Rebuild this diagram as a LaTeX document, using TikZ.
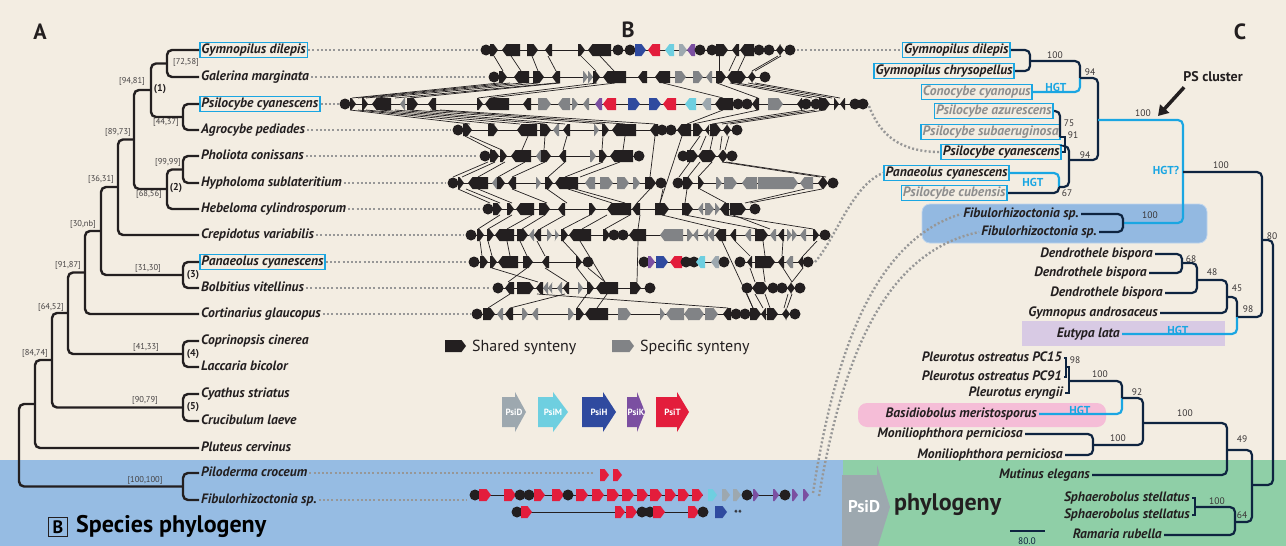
\documentclass[tikz,border=0pt]{standalone}
\usepackage{fontspec}
\setmainfont{PT Sans}
\usetikzlibrary{arrows.meta, positioning}
\definecolor{cream}{HTML}{F3EDE2}
\definecolor{bandblue}{HTML}{96BCE3}
\definecolor{bandgreen}{HTML}{8FCFA7}
\definecolor{gk}{HTML}{231F20}
\definecolor{gs}{HTML}{818386}
\definecolor{gD}{HTML}{9DA8AF}
\definecolor{gM}{HTML}{6ECFE0}
\definecolor{gH}{HTML}{2F4A9F}
\definecolor{gK}{HTML}{7B4FA1}
\definecolor{gT}{HTML}{E31D3C}
\definecolor{hgtblue}{HTML}{1AA6E2}
\definecolor{navy}{HTML}{0E2440}
\definecolor{fibbox}{HTML}{93B9E1}
\definecolor{eutbox}{HTML}{D8CAE4}
\definecolor{basbox}{HTML}{F5BDD7}
\definecolor{dotgray}{HTML}{979797}
\definecolor{graytext}{HTML}{8E8E8E}
% one gene: from, to, kind (o circle, r right, l left), colour, row
\newcommand{\gene}[5]{%
  \if#3o\fill[#4] (#1,#5) circle[radius=5.5pt];\fi
  \if#3r\fill[#4] (#1,#5-6) -- (#2-4.5,#5-6) -- (#2,#5) -- (#2-4.5,#5+6) -- (#1,#5+6) -- cycle;\fi
  \if#3l\fill[#4] (#2,#5-6) -- (#1+4.5,#5-6) -- (#1,#5) -- (#1+4.5,#5+6) -- (#2,#5+6) -- cycle;\fi}
\newcommand{\genes}[2]{\foreach \ga/\gb/\gd/\gc in {#2}{\gene{\ga}{\gb}{\gd}{\gc}{#1}}}
\newcommand{\links}[3]{\foreach \ga/\gb in {#3}{\draw[synt] (\ga,#1+6) -- (\gb,#2-6);}}
\newcommand{\psiarrow}[6]{% node name, label, body start, body end, tip, colour
  \fill[#6] (#3,397) -- (#4,397) -- (#4,392) -- (#5,412) -- (#4,432) -- (#4,427) -- (#3,427) -- cycle;
  \node[psibig] (#1) at ({(#3+#5)/2},412) {#2};}
\tikzset{
  sp/.style={font=\fontsize{13.6}{15}\selectfont\bfseries\itshape, text=gk, inner sep=2pt, text height=9.5pt, text depth=2.5pt},
  spbox/.style={sp, draw=hgtblue, line width=1.6pt, inner sep=1.6pt},
  spgray/.style={spbox, text=graytext},
  boot/.style={font=\fontsize{8.5}{9}\selectfont, text=gk!85, inner sep=1pt},
  cboot/.style={font=\fontsize{9.5}{10}\selectfont, text=gk!90, inner sep=1pt},
  clade/.style={font=\fontsize{10}{11}\selectfont\bfseries, text=gk, inner sep=1pt},
  branch/.style={line width=2.4pt, gk, rounded corners=5pt},
  cbranch/.style={line width=2.2pt, navy, rounded corners=5pt},
  hgtline/.style={line width=2.2pt, hgtblue, rounded corners=5pt},
  hgt/.style={font=\fontsize{11.5}{12}\selectfont\bfseries, text=hgtblue, inner sep=1pt},
  dotlink/.style={dotgray, line width=2.4pt, dash pattern=on 2pt off 2.2pt},
  synt/.style={gk, line width=0.7pt},
  backbone/.style={gk, line width=1pt},
  panel/.style={font=\fontsize{22}{24}\selectfont\bfseries, text=gk, inner sep=0pt},
  psibig/.style={font=\fontsize{9}{10}\selectfont\bfseries, text=white, inner sep=0pt},
  legend/.style={font=\fontsize{16}{18}\selectfont, text=gk, inner sep=1pt},
  psarrow/.style={-{Triangle[length=10pt,width=12pt]}, line width=3.5pt, gk}
}

\begin{document}
\begin{tikzpicture}[x=1pt, y=-1pt]
  \useasboundingbox (0,0) rectangle (1286,546);
  % backgrounds
  \fill[cream] (0,0) rectangle (1286,546);
  \fill[bandblue] (0,460) rectangle (845,546);
  \fill[bandgreen] (843,460) rectangle (1286,546);
  \fill[fibbox, draw=fibbox!60!white, line width=0.8pt, rounded corners=8pt] (922,204) rectangle (1207,243);
  \fill[eutbox] (1022,321) rectangle (1225,346);
  \fill[basbox, rounded corners=9pt] (858,403) rectangle (1106,427);

  \node[panel] (pA) at (40,32) {A};
  \node[panel] (pB) at (628,30) {B};
  \node[panel] (pC) at (1240,32) {C};

  % ---- A: species tree ----
  \node[spbox, anchor=west] (gdil) at (199,50) {Gymnopilus dilepis};
  \node[sp, anchor=west] (gmar) at (199,77) {Galerina marginata};
  \node[spbox, anchor=west] (pcya) at (199,104) {Psilocybe cyanescens};
  \node[sp, anchor=west] (agro) at (199,130) {Agrocybe pediades};
  \node[sp, anchor=west] (phol) at (199,156) {Pholiota conissans};
  \node[sp, anchor=west] (hyph) at (199,183) {Hypholoma sublateritium};
  \node[sp, anchor=west] (hebe) at (199,209) {Hebeloma cylindrosporum};
  \node[sp, anchor=west] (crep) at (199,235) {Crepidotus variabilis};
  \node[spbox, anchor=west] (pana) at (199,262) {Panaeolus cyanescens};
  \node[sp, anchor=west] (bolb) at (199,288) {Bolbitius vitellinus};
  \node[sp, anchor=west] (cort) at (199,314) {Cortinarius glaucopus};
  \node[sp, anchor=west] (copr) at (199,341) {Coprinopsis cinerea};
  \node[sp, anchor=west] (lacc) at (199,367) {Laccaria bicolor};
  \node[sp, anchor=west] (cyat) at (199,394) {Cyathus striatus};
  \node[sp, anchor=west] (cruc) at (199,421) {Crucibulum laeve};
  \node[sp, anchor=west] (plut) at (199,448) {Pluteus cervinus};
  \node[sp, anchor=west] (pilo) at (199,473) {Piloderma croceum};
  \node[sp, anchor=west] (fibu) at (199,500) {Fibulorhizoctonia sp.};

  \coordinate (a1) at (167,63.5);
  \coordinate (a2) at (183,117);
  \coordinate (a3) at (151,90);
  \coordinate (a4) at (183,169.5);
  \coordinate (a5) at (167,189);
  \coordinate (a6) at (134,139.5);
  \coordinate (a7) at (118,187);
  \coordinate (a8) at (183,275);
  \coordinate (a9) at (101,231);
  \coordinate (a10) at (85,272.5);
  \coordinate (a11) at (183,354);
  \coordinate (a12) at (68,313);
  \coordinate (a13) at (183,407.5);
  \coordinate (a14) at (52,360);
  \coordinate (a15) at (35,404);
  \coordinate (a16) at (183,486.5);
  \coordinate (root) at (19,445);

  \draw[branch] (gdil.west) -| (a1) |- (gmar.west);
  \draw[branch] (pcya.west) -| (a2) |- (agro.west);
  \draw[branch] (a1) -| (a3) |- (a2);
  \draw[branch] (phol.west) -| (a4) |- (hyph.west);
  \draw[branch] (a4) -| (a5) |- (hebe.west);
  \draw[branch] (a3) -| (a6) |- (a5);
  \draw[branch] (a6) -| (a7) |- (crep.west);
  \draw[branch] (pana.west) -| (a8) |- (bolb.west);
  \draw[branch] (a7) -| (a9) |- (a8);
  \draw[branch] (a9) -| (a10) |- (cort.west);
  \draw[branch] (copr.west) -| (a11) |- (lacc.west);
  \draw[branch] (a10) -| (a12) |- (a11);
  \draw[branch] (cyat.west) -| (a13) |- (cruc.west);
  \draw[branch] (a12) -| (a14) |- (a13);
  \draw[branch] (a14) -| (a15) |- (plut.west);
  \draw[branch] (pilo.west) -| (a16) |- (fibu.west);
  \draw[branch] (a15) -| (root) |- (a16);

  \node[boot] (bs1) at (186,62) {[72,58]};
  \node[boot] (bs2) at (166,122) {[44,37]};
  \node[boot] (bs3) at (132,81) {[94,81]};
  \node[boot] (bs4) at (168,162) {[99,99]};
  \node[boot] (bs5) at (149,194) {[68,56]};
  \node[boot] (bs6) at (118,132) {[89,73]};
  \node[boot] (bs7) at (101,179) {[36,31]};
  \node[boot] (bs8) at (83,224) {[30,nb]};
  \node[boot] (bs9) at (148,268) {[31,30]};
  \node[boot] (bs10) at (68,265) {[91,87]};
  \node[boot] (bs11) at (146,347) {[41,33]};
  \node[boot] (bs12) at (51,307) {[64,52]};
  \node[boot] (bs13) at (145,400) {[90,79]};
  \node[boot] (bs14) at (35,353) {[84,74]};
  \node[boot] (bs15) at (145,480) {[100,100]};
  \node[clade] (cl1) at (160,89) {(1)};
  \node[clade] (cl2) at (176,188) {(2)};
  \node[clade] (cl3) at (193,275) {(3)};
  \node[clade] (cl4) at (193,354) {(4)};
  \node[clade] (cl5) at (193,407) {(5)};

  \node[draw=gk, line width=1pt, font=\fontsize{18}{20}\selectfont\bfseries, minimum size=19pt, inner sep=0pt] (boxB) at (58,527) {B};
  \node[font=\fontsize{24}{26}\selectfont\bfseries, anchor=west, inner sep=0pt] (sptitle) at (76,526) {Species phylogeny};

  % ---- B: synteny ----
  \links{50}{77}{494/503, 511/521, 532/538, 548/556, 581/596, 600/614, 719/719, 736/729, 745/738, 778/752, 781/755}
  \links{77}{104}{499/352, 510/358, 522/366, 538/376, 556/395, 560/410, 597/478, 615/490, 663/723, 717/758, 730/812, 737/822, 748/832, 755/840}
  \links{104}{130}{350/470, 358/495, 366/520, 380/545, 395/565, 410/605, 430/625, 440/655, 723/687, 758/693, 805/712, 815/722, 825/730}
  \links{130}{156}{465/492, 470/502, 528/522, 545/544, 567/563, 603/602, 625/623, 700/690, 706/700, 713/710, 722/720, 729/725}
  \links{130}{183}{655/650}
  \links{130}{209}{682/660}
  \links{156}{183}{488/453, 495/462, 505/478, 525/498, 545/512, 565/548, 603/565, 620/580, 690/679, 700/688, 712/698, 722/820, 726/826}
  \links{183}{209}{458/490, 466/500, 478/512, 512/547, 547/567, 568/612, 575/625, 650/637, 663/660, 687/685, 700/726, 805/745, 822/750}
  \links{209}{235}{500/478, 512/488, 532/507, 545/522, 565/540, 590/563, 607/582, 630/605, 640/638, 662/720, 685/757, 725/813, 733/770}
  \links{235}{262}{480/482, 488/492, 507/510, 520/527, 537/545, 563/577, 735/750, 763/765, 783/782, 817/803}
  \links{235}{288}{580/605, 638/637}
  \links{235}{314}{722/753}
  \links{262}{288}{492/538, 527/508, 545/567, 577/588, 588/605, 750/755, 763/765, 783/792, 803/792}
  \links{288}{314}{510/488, 565/510, 537/728, 587/577, 607/597, 747/753, 755/763, 765/770, 788/784, 792/787}

  \foreach \ya/\xa/\xb in {50/486/790, 77/494/765, 104/345/863, 130/458/737, 156/485/639, 156/683/732,
      183/453/661, 183/678/833, 209/488/755, 235/471/825, 262/474/588, 262/644/724, 262/740/808,
      288/498/650, 288/747/800, 314/477/795, 495/475/703, 495/747/785, 512/517/703}
    {\draw[backbone] (\xa,\ya) -- (\xb,\ya);}

  \genes{50}{486/0/o/gk, 490/498/r/gk, 502/520/l/gk, 527/538/r/gk, 545/552/l/gk, 578/585/r/gk, 588/611/l/gk, 618/0/o/gk, 630/0/o/gk,
    635/646/r/gH, 648/660/l/gT, 665/674/l/gM, 679/687/r/gD, 687/695/l/gK, 700/0/o/gk, 712/0/o/gk, 716/728/r/gk, 732/739/l/gk,
    740/754/l/gk, 759/0/o/gk, 769/0/o/gk, 776/780/l/gk, 780/784/r/gk, 790/0/o/gk}
  \genes{77}{494/0/o/gk, 499/507/r/gk, 514/529/l/gk, 533/544/r/gk, 552/560/l/gk, 583/588/r/gs, 588/593/r/gs, 593/600/r/gk, 603/626/l/gk,
    638/647/l/gk, 655/670/l/gk, 675/686/r/gs, 693/703/r/gs, 706/712/l/gs, 716/726/r/gk, 727/733/l/gk, 733/746/r/gk, 748/752/l/gk,
    752/756/r/gk, 765/0/o/gk}
  \genes{104}{345/0/o/gk, 350/356/r/gk, 362/368/r/gk, 372/391/l/gk, 400/405/l/gs, 407/418/r/gk, 428/436/l/gk, 477/483/r/gk, 485/509/l/gk,
    523/531/l/gk, 538/551/r/gs, 558/570/l/gs, 572/578/r/gs, 583/589/l/gs, 595/602/l/gK, 603/616/l/gT, 628/640/r/gH, 649/661/r/gH,
    663/676/l/gT, 685/696/l/gM, 702/711/l/gD, 715/733/l/gk, 738/0/o/gk, 747/0/o/gk, 752/759/l/gk, 768/783/r/gs, 797/802/l/gk,
    806/0/o/gk, 816/0/o/gk, 819/830/r/gk, 834/839/r/gk, 840/845/l/gk, 855/0/o/gk, 863/0/o/gk}
  \genes{130}{458/0/o/gk, 463/472/r/gk, 488/498/r/gk, 517/537/l/gk, 540/551/r/gk, 553/559/l/gs, 563/570/l/gk, 594/599/r/gs, 602/609/r/gk,
    612/636/l/gk, 650/658/l/gk, 662/0/o/gk, 671/0/o/gk, 677/691/l/gk, 693/703/r/gk, 705/709/l/gk, 710/721/r/gk, 723/727/l/gk,
    727/731/r/gk, 737/0/o/gk}
  \genes{156}{485/0/o/gk, 490/499/r/gk, 500/507/r/gk, 511/531/l/gk, 536/541/l/gs, 541/551/r/gk, 559/566/l/gk, 590/596/r/gs, 599/607/r/gk,
    610/633/l/gk, 639/0/o/gk, 683/0/o/gk, 687/698/r/gk, 698/704/l/gk, 704/716/r/gk, 718/723/l/gk, 723/728/r/gk, 732/0/o/gk}
  \genes{183}{453/0/o/gk, 458/464/r/gk, 468/488/l/gk, 492/497/l/gs, 497/505/r/gk, 508/516/l/gk, 536/541/r/gs, 545/553/r/gk, 555/578/l/gk,
    585/595/l/gs, 600/613/r/gs, 617/629/r/gs, 633/640/r/gs, 645/656/r/gk, 661/0/o/gk, 678/0/o/gk, 683/693/r/gk, 698/704/r/gk,
    716/722/r/gs, 724/737/r/gs, 742/757/l/gs, 758/798/r/gs, 800/813/l/gs, 818/823/l/gk, 823/828/r/gk, 833/0/o/gk}
  \genes{209}{488/0/o/gk, 493/502/r/gk, 507/514/r/gk, 516/534/l/gk, 539/550/r/gk, 558/565/l/gk, 589/596/r/gk, 607/631/l/gk, 632/640/l/gk,
    655/669/r/gk, 682/693/r/gk, 698/703/l/gs, 705/714/r/gs, 715/720/r/gs, 720/729/l/gk, 730/746/r/gk, 755/0/o/gk}
  \genes{235}{471/0/o/gk, 477/484/r/gk, 487/494/r/gk, 495/514/l/gk, 517/528/r/gk, 529/534/l/gs, 534/541/l/gk, 547/552/r/gs, 555/559/r/gs,
    561/568/r/gk, 569/591/l/gk, 603/610/r/gk, 614/0/o/gk, 623/0/o/gk, 629/646/l/gk, 660/683/l/gs, 687/693/r/gs, 693/698/l/gs,
    703/708/l/gs, 708/714/l/gs, 715/726/l/gk, 730/736/l/gk, 745/751/l/gs, 755/768/r/gk, 770/776/l/gs, 778/784/l/gk, 787/792/r/gs,
    792/797/r/gs, 800/806/l/gs, 813/819/r/gk, 825/0/o/gk}
  \genes{262}{474/0/o/gk, 480/488/r/gk, 490/497/r/gk, 498/518/l/gk, 523/533/r/gk, 542/549/l/gk, 576/582/r/gk, 588/0/o/gk, 644/0/o/gk,
    648/655/r/gK, 656/668/r/gH, 670/682/l/gT, 686/0/o/gk, 694/0/o/gk, 696/705/l/gM, 711/719/l/gD, 724/0/o/gk, 740/0/o/gk,
    747/752/l/gk, 755/775/r/gk, 778/784/l/gk, 786/793/l/gs, 798/803/l/gk, 808/0/o/gk}
  \genes{288}{498/0/o/gk, 505/514/l/gk, 517/534/r/gk, 536/543/l/gk, 543/548/l/gs, 548/552/l/gs, 557/562/l/gs, 563/569/l/gk, 578/583/r/gs,
    587/594/r/gk, 596/618/l/gk, 630/641/r/gk, 650/0/o/gk, 747/0/o/gk, 752/758/l/gk, 758/768/r/gk, 773/0/o/gk, 782/0/o/gk,
    787/791/l/gk, 791/795/r/gk, 800/0/o/gk}
  \genes{314}{477/0/o/gk, 483/495/r/gk, 497/503/l/gs, 505/513/l/gk, 522/528/r/gs, 532/538/l/gs, 568/574/r/gs, 576/584/r/gk, 585/608/l/gk,
    618/631/r/gs, 660/665/r/gs, 666/684/l/gs, 684/688/l/gs, 688/704/r/gs, 705/718/r/gs, 723/731/l/gk, 736/0/o/gk, 745/0/o/gk,
    750/761/r/gk, 761/766/l/gk, 767/778/r/gk, 782/786/l/gk, 786/790/r/gk, 795/0/o/gk}
  \genes{475}{600/609/r/gT, 613/622/r/gT}
  \genes{495}{475/0/o/gk, 479/491/r/gT, 504/516/r/gT, 520/0/o/gk, 529/0/o/gk, 534/545/r/gT, 552/564/r/gT, 568/0/o/gk, 576/588/r/gT,
    592/604/r/gT, 607/619/r/gT, 622/634/r/gT, 637/648/r/gT, 650/662/r/gT, 665/676/r/gT, 678/689/r/gT, 692/703/r/gT, 708/717/r/gM,
    722/730/r/gD, 733/741/r/gD, 747/0/o/gk, 753/759/r/gK, 773/779/r/gK, 785/0/o/gk, 792/798/r/gK, 803/809/r/gK}
  \genes{512}{517/0/o/gk, 521/532/r/gT, 615/625/r/gT, 626/637/r/gT, 642/0/o/gk, 650/0/o/gk, 653/665/r/gT, 688/699/r/gT, 703/0/o/gk,
    715/727/r/gH}
  \node[font=\fontsize{10}{10}\selectfont\bfseries, text=gk, inner sep=0pt] (stars) at (738,514) {**};

  % legend
  \gene{445}{466}{r}{gk}{346}
  \node[legend, anchor=west] (lshared) at (471,347) {Shared synteny};
  \gene{612}{634}{r}{gs}{346}
  \node[legend, anchor=west] (lspec) at (639,347) {Specific synteny};
  \psiarrow{lD}{PsiD}{502}{515}{526}{gD}
  \psiarrow{lM}{PsiM}{538}{553}{568}{gM}
  \psiarrow{lH}{PsiH}{582}{603}{616}{gH}
  \psiarrow{lK}{PsiK}{627}{637}{645}{gK}
  \psiarrow{lT}{PsiT}{656}{677}{689}{gT}

  % ---- C: PsiD tree ----
  \node[spbox, anchor=east] (cgdil) at (1011,50) {Gymnopilus dilepis};
  \node[spbox, anchor=east] (cgchr) at (1015,71) {Gymnopilus chrysopellus};
  \node[spgray, anchor=east] (ccon) at (1033,92) {Conocybe cyanopus};
  \node[spgray, anchor=east] (cazu) at (1054,111) {Psilocybe azurescens};
  \node[spgray, anchor=east] (csub) at (1061,132) {Psilocybe subaeruginosa};
  \node[spbox, anchor=east] (cpcy) at (1062,152) {Psilocybe cyanescens};
  \node[spbox, anchor=east] (cpan) at (1010,173) {Panaeolus cyanescens};
  \node[spgray, anchor=east] (ccub) at (1008,193) {Psilocybe cubensis};
  \node[sp, anchor=east] (cfib1) at (1081,214) {Fibulorhizoctonia sp.};
  \node[sp, anchor=east] (cfib2) at (1099,232) {Fibulorhizoctonia sp.};
  \node[sp, anchor=east] (cden1) at (1155,254) {Dendrothele bispora};
  \node[sp, anchor=east] (cden2) at (1149,273) {Dendrothele bispora};
  \node[sp, anchor=east] (cden3) at (1165,293) {Dendrothele bispora};
  \node[sp, anchor=east] (cgym) at (1160,313) {Gymnopus androsaceus};
  \node[sp, anchor=east] (ceut) at (1122,334) {Eutypa lata};
  \node[sp, anchor=east] (cpc15) at (1064,358) {Pleurotus ostreatus PC15};
  \node[sp, anchor=east] (cpc91) at (1064,377) {Pleurotus ostreatus PC91};
  \node[sp, anchor=east] (cery) at (1065,393) {Pleurotus eryngii};
  \node[sp, anchor=east] (cbas) at (1039,414) {Basidiobolus meristosporus};
  \node[sp, anchor=east] (cmon1) at (1025,434) {Moniliophthora perniciosa};
  \node[sp, anchor=east] (cmon2) at (1065,455) {Moniliophthora perniciosa};
  \node[sp, anchor=east] (cmut) at (1092,475) {Mutinus elegans};
  \node[sp, anchor=east] (csph1) at (1192,498) {Sphaerobolus stellatus};
  \node[sp, anchor=east] (csph2) at (1192,515) {Sphaerobolus stellatus};
  \node[sp, anchor=east] (cram) at (1164,535) {Ramaria rubella};

  \coordinate (c1) at (1030,61);
  \coordinate (c2) at (1080,78);
  \coordinate (c3) at (1098,120);
  \coordinate (c4a) at (1060,137);
  \coordinate (c4b) at (1065,146);
  \coordinate (c4c) at (1059,187);
  \coordinate (c5) at (1069,160);
  \coordinate (c6) at (1183,172);
  \coordinate (c7) at (1123,223);
  \coordinate (c8) at (1262,240);
  \coordinate (c10) at (1273,300);
  \coordinate (d68) at (1182,263);
  \coordinate (d48) at (1197,280);
  \coordinate (d45) at (1227,297);
  \coordinate (d98) at (1237,317);
  \coordinate (p98) at (1066,367);
  \coordinate (p100) at (1069,381);
  \coordinate (p92) at (1122,398);
  \coordinate (m100) at (1093,445);
  \coordinate (b100) at (1143,423);
  \coordinate (n49) at (1227,450);
  \coordinate (s100) at (1195,507);
  \coordinate (n64) at (1235,522);
  \coordinate (n49b) at (1252,485);

  \draw[cbranch] (cgdil.east) -| (c1) |- (cgchr.east);
  \draw[cbranch] (c1) -| (c2);
  \draw[hgtline] (ccon.east) -| (c2);
  \draw[cbranch] (cazu.east) -| (c4a);
  \draw[cbranch, sharp corners] (c4a) -| (c4b) |- (cpcy.east);
  \draw[hgtline] (cpan.east) -| (c4c);
  \draw[cbranch] (ccub.east) -| (c4c);
  \draw[cbranch] (c4b) -| (c5) |- (c4c);
  \draw[cbranch] (c2) -| (c3) |- (c5);
  \draw[hgtline] (c3) -| (c6) |- (c7);
  \draw[cbranch] (cfib1.east) -| (c7) |- (cfib2.east);
  \draw[cbranch] (c6) -| (c8) |- (d98);
  \draw[cbranch] (c8) -| (c10) |- (n49b);
  \draw[cbranch] (cden1.east) -| (d68) |- (cden2.east);
  \draw[cbranch] (d68) -| (d48) |- (cden3.east);
  \draw[cbranch] (d48) -| (d45) |- (cgym.east);
  \draw[cbranch] (d45) -| (d98);
  \draw[hgtline] (ceut.east) -| (d98);
  \draw[cbranch, sharp corners] (cpc15.east) -| (p98) |- (cpc91.east);
  \draw[cbranch, sharp corners] (p98) -| (p100) |- (cery.east);
  \draw[cbranch] (p100) -| (p92);
  \draw[hgtline] (cbas.east) -| (p92);
  \draw[cbranch] (cmon1.east) -| (m100) |- (cmon2.east);
  \draw[cbranch] (p92) -| (b100) |- (m100);
  \draw[cbranch] (b100) -| (n49) |- (cmut.east);
  \draw[cbranch, sharp corners] (csph1.east) -| (s100) |- (csph2.east);
  \draw[cbranch] (s100) -| (n64) |- (cram.east);
  \draw[cbranch] (n49) -| (n49b) |- (n64);

  \node[cboot] (v1) at (1055,55) {100};
  \node[cboot] (v2) at (1090,72) {94};
  \node[cboot] (v3) at (1143,113) {100};
  \node[cboot] (v4) at (1069,123) {75};
  \node[cboot] (v5) at (1073,135) {91};
  \node[cboot] (v6) at (1085,155) {94};
  \node[cboot] (v7) at (1067,193) {67};
  \node[cboot] (v8) at (1150,215) {100};
  \node[cboot] (v9) at (1221,165) {100};
  \node[cboot] (v10) at (1272,236) {80};
  \node[cboot] (v11) at (1191,259) {68};
  \node[cboot] (v12) at (1212,272) {48};
  \node[cboot] (v13) at (1237,288) {45};
  \node[cboot] (v14) at (1248,309) {98};
  \node[cboot] (v15) at (1075,360) {98};
  \node[cboot] (v16) at (1100,374) {100};
  \node[cboot] (v17) at (1137,392) {92};
  \node[cboot] (v18) at (1185,413) {100};
  \node[cboot] (v19) at (1118,438) {100};
  \node[cboot] (v20) at (1242,439) {49};
  \node[cboot] (v21) at (1217,501) {100};
  \node[cboot] (v22) at (1242,515) {64};

  \node[hgt] (h1) at (1056,87) {HGT};
  \node[hgt] (h2) at (1033,182) {HGT};
  \node[hgt] (h3) at (1166,170) {HGT?};
  \node[hgt] (h4) at (1178,330) {HGT};
  \node[hgt] (h5) at (1080,410) {HGT};

  \node[font=\fontsize{14}{16}\selectfont\bfseries, text=gk, inner sep=1pt] (pslbl) at (1213,77) {PS cluster};
  \coordinate (psmark) at (1158,116);
  \draw[psarrow] (pslbl.south west) ++(2,4) -- (psmark);

  \draw[navy, line width=1.6pt] (1010,531) -- (1045,531);
  \node[font=\fontsize{9.5}{10}\selectfont, text=navy, inner sep=0pt] (scale) at (1027,541) {80.0};

  \fill[gD] (842,475) -- (877,475) -- (877,465) -- (890,507) -- (877,549) -- (842,549) -- cycle;
  \node[font=\fontsize{17}{18}\selectfont\bfseries, text=white, inner sep=0pt] (psidlbl) at (864,507) {PsiD};
  \node[font=\fontsize{24}{26}\selectfont\bfseries, text=gk, anchor=west, inner sep=0pt] (phylo) at (894,505) {phylogeny};

  % ---- dotted links ----
  \coordinate (r1s) at (480,50);
  \coordinate (r1e) at (797,50);
  \coordinate (r2s) at (487,77);
  \coordinate (r3s) at (339,104);
  \coordinate (r3e) at (869,106);
  \coordinate (r4s) at (451,130);
  \coordinate (r5s) at (478,156);
  \coordinate (r6s) at (446,183);
  \coordinate (r7s) at (481,209);
  \coordinate (r8s) at (464,235);
  \coordinate (r9s) at (467,262);
  \coordinate (r9e) at (815,262);
  \coordinate (r10s) at (491,288);
  \coordinate (r11s) at (470,314);
  \coordinate (r12s) at (594,473);
  \coordinate (r13s) at (466,500);
  \coordinate (r13e) at (813,493);
  \coordinate (r14e) at (819,496);
  \draw[dotlink] (gdil.east) -- (r1s);
  \draw[dotlink] (gmar.east) -- (r2s);
  \draw[dotlink] (pcya.east) -- (r3s);
  \draw[dotlink] (agro.east) -- (r4s);
  \draw[dotlink] (phol.east) -- (r5s);
  \draw[dotlink] (hyph.east) -- (r6s);
  \draw[dotlink] (hebe.east) -- (r7s);
  \draw[dotlink] (crep.east) -- (r8s);
  \draw[dotlink] (pana.east) -- (r9s);
  \draw[dotlink] (bolb.east) -- (r10s);
  \draw[dotlink] (cort.east) -- (r11s);
  \draw[dotlink] (pilo.east) -- (r12s);
  \draw[dotlink] (fibu.east) -- (r13s);
  \draw[dotlink] (r1e) -- (cgdil.west);
  \draw[dotlink] (r3e) .. controls (880,135) and (900,152) .. (cpcy.west);
  \draw[dotlink] (r9e) .. controls (835,240) and (852,185) .. (cpan.west);
  \draw[dotlink] (r13e) .. controls (835,350) and (875,240) .. (cfib1.west);
  \draw[dotlink] (r14e) .. controls (843,355) and (885,252) .. (cfib2.west);
\end{tikzpicture}
\end{document}
